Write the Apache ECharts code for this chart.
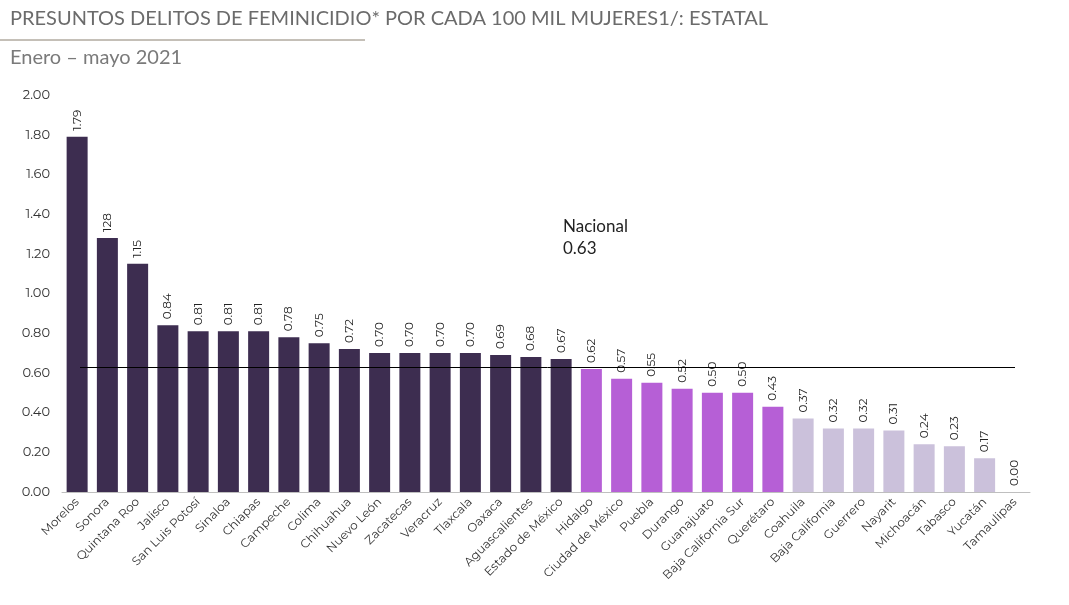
<!DOCTYPE html>
<html><head><meta charset="utf-8">
<script src="https://cdn.jsdelivr.net/npm/echarts@6/dist/echarts.min.js"></script>
<style>body{margin:0;background:#fff}#c{width:1069px;height:605px}</style>
</head><body><div id="c"></div>
<script>
const states = ['Morelos','Sonora','Quintana Roo','Jalisco','San Luis Potosí','Sinaloa','Chiapas','Campeche','Colima','Chihuahua','Nuevo León','Zacatecas','Veracruz','Tlaxcala','Oaxaca','Aguascalientes','Estado de México','Hidalgo','Ciudad de México','Puebla','Durango','Guanajuato','Baja California Sur','Querétaro','Coahuila','Baja California','Guerrero','Nayarit','Michoacán','Tabasco','Yucatán','Tamaulipas'];
const rates = [1.79,1.28,1.15,0.84,0.81,0.81,0.81,0.78,0.75,0.72,0.70,0.70,0.70,0.70,0.69,0.68,0.67,0.62,0.57,0.55,0.52,0.50,0.50,0.43,0.37,0.32,0.32,0.31,0.24,0.23,0.17,0.00];
const labels = ['1.79','128','1.15','0.84','0.81','0.81','0.81','0.78','0.75','0.72','0.70','0.70','0.70','0.70','0.69','0.68','0.67','0.62','0.57','0.55','0.52','0.50','0.50','0.43','0.37','0.32','0.32','0.31','0.24','0.23','0.17','0.00'];
const nacional = 0.63;
const colorFor = i => i < 17 ? '#3d2d50' : (i < 24 ? '#b65fd6' : '#cbc1db');

const chart = echarts.init(document.getElementById('c'));
chart.setOption({
  textStyle: {fontFamily: 'Montserrat, Lato, sans-serif'},
  graphic: [
    {type: 'text', left: 10, top: 9, style: {text: 'PRESUNTOS DELITOS DE FEMINICIDIO* POR CADA 100 MIL MUJERES¹ⁱ: ESTATAL'.replace('¹ⁱ','1/'), fontSize: 20, fill: '#6b6b6b', fontFamily: 'Lato'}},
    {type: 'line', shape: {x1: 0, y1: 40, x2: 365, y2: 40}, style: {stroke: '#8a8070', lineWidth: 1}},
    {type: 'text', left: 10, top: 48, style: {text: 'Enero – mayo 2021', fontSize: 20, fill: '#7a7a7a', fontFamily: 'Lato'}},
    {type: 'text', left: 563, top: 216, style: {text: 'Nacional\n' + nacional.toFixed(2), fontSize: 17, fill: '#222', align: 'center', lineHeight: 22, fontFamily: 'Lato'}}
  ],
  grid: {left: 62, right: 39, top: 95, bottom: 113},
  xAxis: {
    type: 'category', data: states,
    axisLine: {lineStyle: {color: '#bfbfbf'}}, axisTick: {show: false},
    axisLabel: {rotate: 45, interval: 0, color: '#333', fontSize: 12, margin: 8}
  },
  yAxis: {
    type: 'value', min: 0, max: 2, interval: 0.2,
    axisLabel: {formatter: v => v.toFixed(2), color: '#333', fontSize: 13, margin: 12},
    splitLine: {show: false}, axisLine: {show: false}, axisTick: {show: false}
  },
  series: [{
    type: 'bar', barWidth: 21,
    data: rates.map((v, i) => ({value: v, itemStyle: {color: colorFor(i)}})),
    label: {show: true, position: 'top', rotate: 90, align: 'left', verticalAlign: 'middle', distance: 6,
      formatter: p => labels[p.dataIndex], color: '#222', fontSize: 12},
    markLine: {symbol: 'none', silent: true, label: {show: false},
      lineStyle: {color: '#000', type: 'solid', width: 1},
      data: [[{xAxis: 0, yAxis: nacional, x: 80}, {xAxis: 31, yAxis: nacional, x: 1015}]]}
  }]
});
</script></body></html>
